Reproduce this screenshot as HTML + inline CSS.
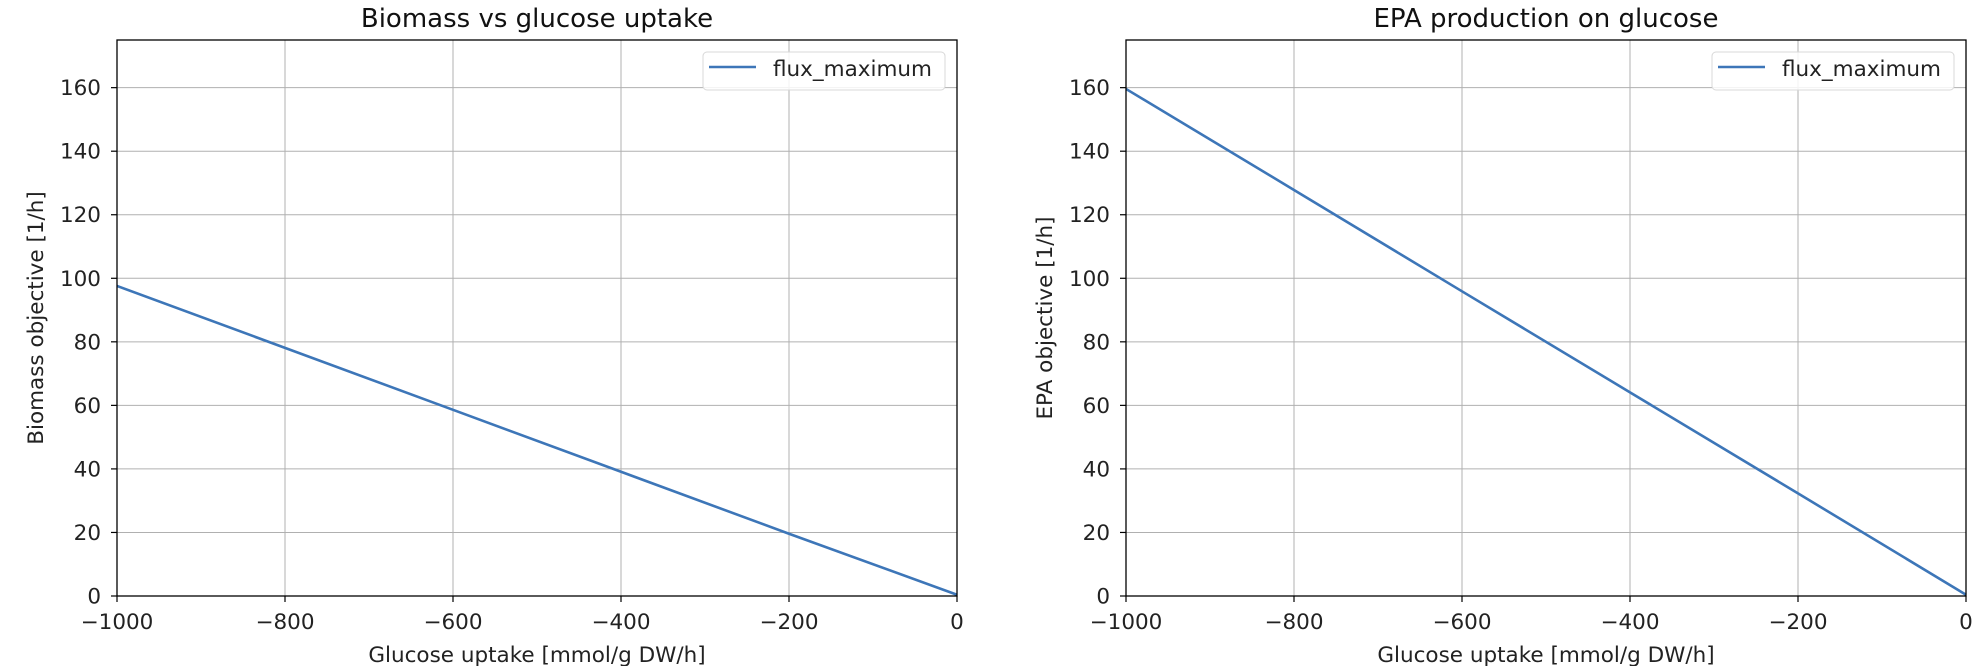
<!DOCTYPE html>
<html><head><meta charset="utf-8"><style>
html,body{margin:0;padding:0;background:#fff;}
svg{display:block;font-family:"DejaVu Sans","Liberation Sans",sans-serif;}
</style></head><body>
<svg id="fig" width="1976" height="666" viewBox="0 0 1976 666" xmlns="http://www.w3.org/2000/svg"></svg>
<script>
const xValues = [-1000, -800, -600, -400, -200, 0];
const biomassValues = [97.6, 78.1, 58.6, 39.1, 19.6, 0.4];
const epaValues = [159.6, 127.8, 95.9, 64.1, 32.3, 0.4];
const xTicks = [-1000, -800, -600, -400, -200, 0];
const yTicks = [0, 20, 40, 60, 80, 100, 120, 140, 160];
const xDomain = [-1000, 0];
const yDomain = [0, 175];

const NS = "http://www.w3.org/2000/svg";
const svg = document.getElementById('fig');
function mk(tag, attrs, parent) {
  const e = document.createElementNS(NS, tag);
  for (const k in attrs) e.setAttribute(k, attrs[k]);
  (parent || svg).appendChild(e);
  return e;
}
function fmt(v){ return v < 0 ? '\u2212' + Math.abs(v) : String(v); }

function panel(left, title, ylabel, values, key) {
  const top = 40, bottom = 596, right = left + 840;
  const sx = v => left + (v - xDomain[0]) / (xDomain[1] - xDomain[0]) * (right - left);
  const sy = v => bottom - (v - yDomain[0]) / (yDomain[1] - yDomain[0]) * (bottom - top);
  const g = mk('g', {});
  
  

  xTicks.forEach(t => {
    const l = mk('line', {x1: sx(t), x2: sx(t), y1: top, y2: bottom, stroke: '#b0b0b0', 'stroke-width': 1}, g);
    
    
    mk('line', {x1: sx(t), x2: sx(t), y1: bottom, y2: bottom + 6, stroke: '#000', 'stroke-width': 1.2}, g);
    const tx = mk('text', {x: sx(t), y: 629, 'text-anchor': 'middle', 'font-size': 21.5, fill: '#222'}, g);
    tx.textContent = fmt(t);
    
    
  });
  yTicks.forEach(t => {
    const l = mk('line', {x1: left, x2: right, y1: sy(t), y2: sy(t), stroke: '#b0b0b0', 'stroke-width': 1}, g);
    
    
    mk('line', {x1: left - 6, x2: left, y1: sy(t), y2: sy(t), stroke: '#000', 'stroke-width': 1.2}, g);
    const tx = mk('text', {x: left - 16, y: sy(t) + 7.5, 'text-anchor': 'end', 'font-size': 21.5, fill: '#222'}, g);
    tx.textContent = t;
    
    
  });

  const pts = xValues.map((x, i) => sx(x) + ',' + sy(values[i])).join(' ');
  const line = mk('polyline', {points: pts, fill: 'none', stroke: '#3d76b8', 'stroke-width': 2.6}, g);
  
  

  const frame = mk('rect', {x: left, y: top, width: right - left, height: bottom - top, fill: 'none', stroke: '#000', 'stroke-width': 1.3}, g);
  
  

  const ti = mk('text', {x: (left + right) / 2, y: 27, 'text-anchor': 'middle', 'font-size': 26, fill: '#111'}, g);
  ti.textContent = title;
  
  

  const xl = mk('text', {x: (left + right) / 2, y: 662, 'text-anchor': 'middle', 'font-size': 21.5, fill: '#222'}, g);
  xl.textContent = 'Glucose uptake [mmol/g DW/h]';
  
  

  const yl = mk('text', {x: 0, y: 0, 'text-anchor': 'middle', 'font-size': 21.5, fill: '#222', transform: 'translate(' + (left - 74) + ',' + ((top + bottom) / 2) + ') rotate(-90)'}, g);
  yl.textContent = ylabel;
  
  

  const lg = mk('g', {}, g);
  
  
  mk('rect', {x: right - 254, y: 52, width: 242, height: 38, rx: 4, fill: '#fff', 'fill-opacity': 0.85, stroke: '#d8d8d8', 'stroke-width': 1}, lg);
  const ls = mk('line', {x1: right - 248, x2: right - 201, y1: 67, y2: 67, stroke: '#3d76b8', 'stroke-width': 2.6}, lg);
  
  
  const lt = mk('text', {x: right - 184, y: 76, 'font-size': 21.5, fill: '#222'}, lg);
  lt.textContent = 'flux_maximum';
  
  
}

panel(117, 'Biomass vs glucose uptake', 'Biomass objective [1/h]', biomassValues, 'biomass');
panel(1126, 'EPA production on glucose', 'EPA objective [1/h]', epaValues, 'epa');
</script>
</body></html>
